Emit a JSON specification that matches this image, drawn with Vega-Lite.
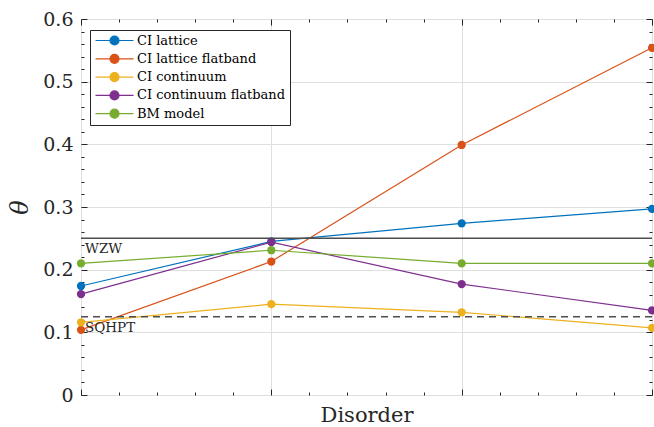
{
  "$schema": "https://vega.github.io/schema/vega-lite/v6.json",
  "width": 571,
  "height": 376,
  "autosize": "none",
  "padding": {"left": 81, "top": 19, "right": 2, "bottom": 32},
  "background": "white",
  "config": {
    "view": {"stroke": "#262626", "strokeWidth": 1},
    "font": "DejaVu Serif",
    "axis": {"domain": false, "tickColor": "#262626", "labelColor": "#262626", "titleColor": "#262626", "gridColor": "#dfdfdf", "gridWidth": 1, "tickWidth": 1, "titleFontWeight": "normal", "labelFont": "DejaVu Serif", "titleFont": "DejaVu Serif"}
  },
  "datasets": {
    "main": [
      {"series": "CI lattice", "disorder": 1, "theta": 0.174},
      {"series": "CI lattice", "disorder": 2, "theta": 0.245},
      {"series": "CI lattice", "disorder": 3, "theta": 0.274},
      {"series": "CI lattice", "disorder": 4, "theta": 0.297},
      {"series": "CI lattice flatband", "disorder": 1, "theta": 0.104},
      {"series": "CI lattice flatband", "disorder": 2, "theta": 0.213},
      {"series": "CI lattice flatband", "disorder": 3, "theta": 0.399},
      {"series": "CI lattice flatband", "disorder": 4, "theta": 0.554},
      {"series": "CI continuum", "disorder": 1, "theta": 0.116},
      {"series": "CI continuum", "disorder": 2, "theta": 0.145},
      {"series": "CI continuum", "disorder": 3, "theta": 0.132},
      {"series": "CI continuum", "disorder": 4, "theta": 0.107},
      {"series": "CI continuum flatband", "disorder": 1, "theta": 0.161},
      {"series": "CI continuum flatband", "disorder": 2, "theta": 0.244},
      {"series": "CI continuum flatband", "disorder": 3, "theta": 0.177},
      {"series": "CI continuum flatband", "disorder": 4, "theta": 0.135},
      {"series": "BM model", "disorder": 1, "theta": 0.21},
      {"series": "BM model", "disorder": 2, "theta": 0.231},
      {"series": "BM model", "disorder": 3, "theta": 0.21},
      {"series": "BM model", "disorder": 4, "theta": 0.21}
    ],
    "refs": [
      {"label": "WZW", "theta": 0.25},
      {"label": "SQHPT", "theta": 0.125}
    ]
  },
  "layer": [
    {
      "data": {"name": "main"},
      "mark": {"type": "line", "strokeWidth": 1.2},
      "encoding": {
        "x": {
          "field": "disorder", "type": "quantitative",
          "scale": {"domain": [1, 4], "nice": false, "zero": false},
          "axis": {
            "orient": "bottom",
            "values": [1, 1.2, 1.4, 1.6, 1.8, 2, 2.2, 2.4, 2.6, 2.8, 3, 3.2, 3.4, 3.6, 3.8, 4],
            "labels": false,
            "grid": true,
            "gridOpacity": {"condition": {"test": "datum.value % 1 == 0", "value": 1}, "value": 0},
            "tickSize": {"condition": {"test": "datum.value % 1 == 0", "value": -6}, "value": -3},
            "title": "Disorder",
            "titleFontSize": 21,
            "titlePadding": 9
          }
        },
        "y": {
          "field": "theta", "type": "quantitative",
          "scale": {"domain": [0, 0.6], "nice": false},
          "axis": {
            "orient": "left",
            "values": [0, 0.02, 0.04, 0.06, 0.08, 0.1, 0.12, 0.14, 0.16, 0.18, 0.2, 0.22, 0.24, 0.26, 0.28, 0.3, 0.32, 0.34, 0.36, 0.38, 0.4, 0.42, 0.44, 0.46, 0.48, 0.5, 0.52, 0.54, 0.56, 0.58, 0.6],
            "labelExpr": "abs(datum.value*10 - round(datum.value*10)) < 1e-6 ? (datum.value == 0 ? '0' : format(datum.value, '.1f')) : ''",
            "labelOverlap": false,
            "labelFontSize": 19,
            "labelPadding": 14,
            "grid": true,
            "gridOpacity": {"condition": {"test": "abs(datum.value*10 - round(datum.value*10)) < 1e-6", "value": 1}, "value": 0},
            "tickSize": {"condition": {"test": "abs(datum.value*10 - round(datum.value*10)) < 1e-6", "value": -6}, "value": -3},
            "title": "θ",
            "titleFontSize": 24,
            "titleFontStyle": "italic",
            "titleAngle": -90,
            "titlePadding": 10
          }
        },
        "color": {
          "field": "series", "type": "nominal",
          "scale": {
            "domain": ["CI lattice", "CI lattice flatband", "CI continuum", "CI continuum flatband", "BM model"],
            "range": ["#0072BD", "#D95319", "#EDB120", "#7E2F8E", "#77AC30"]
          },
          "legend": {
            "orient": "none",
            "legendX": 9,
            "legendY": 11,
            "title": null,
            "symbolType": "M-1,0L6.6,0M1.9,0A0.9,0.9,0,1,1,3.7,0A0.9,0.9,0,1,1,1.9,0Z",
            "symbolSize": 100,
            "symbolStrokeWidth": 1.2,
            "labelFont": "DejaVu Serif",
            "labelFontSize": 13,
            "labelLimit": 400,
            "labelColor": "#000000",
            "labelOffset": 30,
            "rowPadding": 3.3,
            "padding": 4,
            "strokeColor": "#262626",
            "fillColor": "white",
            "encode": {"symbols": {"update": {"fill": {"scale": "color", "field": "value"}, "stroke": {"scale": "color", "field": "value"}, "opacity": {"value": 1}, "fillOpacity": {"value": 1}}}}
          }
        }
      }
    },
    {
      "data": {"name": "main"},
      "mark": {"type": "point", "filled": true, "size": 68, "opacity": 1},
      "encoding": {
        "x": {
          "field": "disorder", "type": "quantitative",
          "axis": {
            "orient": "top",
            "values": [1, 1.2, 1.4, 1.6, 1.8, 2, 2.2, 2.4, 2.6, 2.8, 3, 3.2, 3.4, 3.6, 3.8, 4],
            "labels": false,
            "grid": false,
            "tickSize": {"condition": {"test": "datum.value % 1 == 0", "value": -6}, "value": -3},
            "title": null
          }
        },
        "y": {
          "field": "theta", "type": "quantitative",
          "axis": {
            "orient": "right",
            "values": [0, 0.02, 0.04, 0.06, 0.08, 0.1, 0.12, 0.14, 0.16, 0.18, 0.2, 0.22, 0.24, 0.26, 0.28, 0.3, 0.32, 0.34, 0.36, 0.38, 0.4, 0.42, 0.44, 0.46, 0.48, 0.5, 0.52, 0.54, 0.56, 0.58, 0.6],
            "labels": false,
            "grid": false,
            "tickSize": {"condition": {"test": "abs(datum.value*10 - round(datum.value*10)) < 1e-6", "value": -6}, "value": -3},
            "title": null
          }
        },
        "color": {"field": "series", "type": "nominal"}
      }
    },
    {
      "data": {"name": "refs"},
      "mark": {"type": "rule", "color": "#4d4d4d", "strokeWidth": 1.5},
      "encoding": {
        "y": {"field": "theta", "type": "quantitative", "axis": null},
        "strokeDash": {"field": "label", "type": "nominal", "scale": {"domain": ["WZW", "SQHPT"], "range": [[1, 0], [7, 5]]}, "legend": null}
      }
    },
    {
      "data": {"name": "refs"},
      "mark": {"type": "text", "align": "left", "baseline": "alphabetic", "dx": 4, "dy": 15, "fontSize": 13.5, "font": "DejaVu Serif", "color": "#262626"},
      "encoding": {
        "x": {"datum": 1, "type": "quantitative", "axis": null},
        "y": {"field": "theta", "type": "quantitative", "axis": null},
        "text": {"field": "label"}
      }
    }
  ],
  "resolve": {"axis": {"x": "independent", "y": "independent"}}
}
